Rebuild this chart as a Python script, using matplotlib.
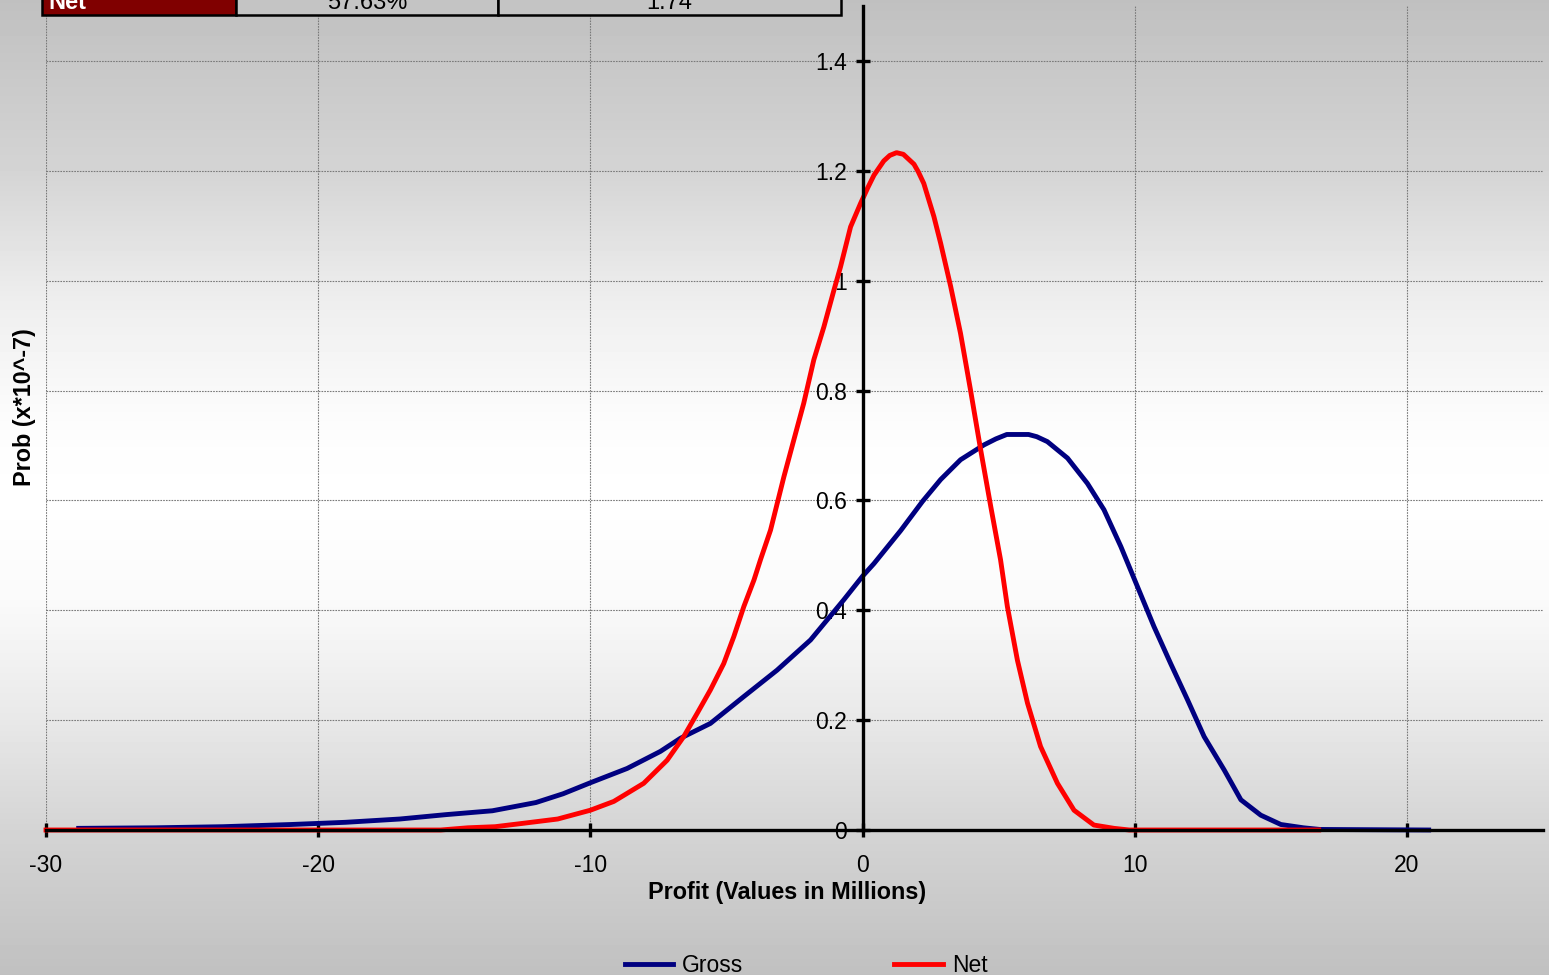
import numpy as np
import matplotlib
matplotlib.use("Agg")
import matplotlib.pyplot as plt
from matplotlib.patches import Rectangle

plt.rcParams['font.family'] = ['Liberation Sans', 'DejaVu Sans']
plt.rcParams['axes.unicode_minus'] = False

# ---------------- data ----------------
gross_x = [-28.8, -26.0, -23.5, -21.0, -19.0, -17.0, -15.3, -13.6, -12.0, -11.0, -10.0,
           -8.65, -7.43, -6.69, -5.59, -4.36, -3.14, -1.91, -0.69, 0.0, 0.42, 1.4, 2.2,
           2.87, 3.6, 4.46, 4.9, 5.3, 6.1, 6.4, 6.79, 7.53, 8.26, 8.87, 9.49, 10.1, 10.71, 11.32,
           11.94, 12.55, 13.29, 13.9, 14.63, 15.37, 16.2, 16.8, 20.8]
gross_y = [0.003, 0.004, 0.006, 0.010, 0.014, 0.020, 0.028, 0.035, 0.050, 0.066, 0.086,
           0.112, 0.143, 0.167, 0.194, 0.243, 0.291, 0.346, 0.419, 0.462, 0.485, 0.545, 0.598,
           0.638, 0.674, 0.701, 0.712, 0.720, 0.720, 0.716, 0.707, 0.677, 0.631, 0.583, 0.516, 0.443,
           0.370, 0.303, 0.237, 0.170, 0.109, 0.055, 0.027, 0.010, 0.004, 0.001, 0.0]

net_x = [-30.0, -15.5, -14.5, -13.5, -12.5, -11.2, -10.0, -9.14, -8.04, -7.18, -6.57,
         -6.08, -5.59, -5.1, -4.73, -4.36, -3.99, -3.75, -3.38, -2.89, -2.46, -2.16,
         -1.79, -1.42, -1.05, -0.81, -0.44, -0.07, 0.2, 0.42, 0.78, 1.0, 1.25, 1.5, 1.89,
         2.05, 2.25, 2.62, 2.87, 3.24, 3.6, 3.97, 4.34, 4.71, 5.07, 5.32, 5.69, 6.06, 6.54,
         7.16, 7.77, 8.5, 9.24, 9.8, 16.76]
net_y = [0.0, 0.0, 0.004, 0.006, 0.012, 0.020, 0.036, 0.052, 0.085, 0.127, 0.170,
         0.212, 0.255, 0.303, 0.352, 0.407, 0.455, 0.492, 0.546, 0.643, 0.722, 0.777,
         0.856, 0.916, 0.983, 1.025, 1.098, 1.141, 1.170, 1.192, 1.218, 1.228, 1.233, 1.230,
         1.212, 1.198, 1.177, 1.117, 1.068, 0.989, 0.904, 0.800, 0.692, 0.589, 0.492, 0.407,
         0.309, 0.231, 0.152, 0.085, 0.036, 0.009, 0.003, 0.0, 0.0]

x_ticks = [-30, -20, -10, 0, 10, 20]
y_ticks = [0, 0.2, 0.4, 0.6, 0.8, 1.0, 1.2, 1.4]
y_tick_labels = ["0", "0.2", "0.4", "0.6", "0.8", "1", "1.2", "1.4"]

table_cells = ["Net", "57.63%", "1.74"]

# ---------------- figure ----------------
W, H = 1549, 975
fig = plt.figure(figsize=(W / 100, H / 100), dpi=100)

# background vertical gradient
bg = fig.add_axes([0, 0, 1, 1], zorder=-10)
rows = np.arange(H)
knots_y = [0, 170, 300, 420, 500, 600, 720, 830, 975]
knots_v = [192, 212, 238, 252, 255, 250, 232, 212, 192]
vals = np.interp(rows, knots_y, knots_v)
img = np.repeat(vals[:, None], 16, axis=1)
bg.imshow(img, cmap='gray', vmin=0, vmax=255, aspect='auto',
          extent=[0, 1, 0, 1], origin='upper', interpolation='none')
bg.set_axis_off()

ax = fig.add_axes([46 / W, 145 / H, 1497 / W, 824 / H])
ax.set_facecolor('none')

ax.plot(gross_x, gross_y, color='#000080', lw=3.5, label='Gross', clip_on=False, zorder=2,
        solid_joinstyle='round')
ax.plot(net_x, net_y, color='#ff0000', lw=3.5, label='Net', clip_on=False, zorder=2.1,
        solid_joinstyle='round')

ax.set_xlim(-30, 25)
ax.set_ylim(0, 1.5)

for s in ['top', 'right']:
    ax.spines[s].set_visible(False)
ax.spines['left'].set_position(('data', 0))
ax.spines['bottom'].set_position(('data', 0))
ax.spines['left'].set_linewidth(2.4)
ax.spines['bottom'].set_linewidth(2.4)
ax.spines['left'].set_zorder(3)
ax.spines['bottom'].set_zorder(3)

ax.set_xticks(x_ticks)
ax.set_yticks(y_ticks)
ax.set_yticklabels(y_tick_labels)
ax.tick_params(axis='both', direction='inout', length=10, width=2.4, labelsize=16.5)
ax.tick_params(axis='x', pad=12)
ax.tick_params(axis='y', pad=6)

ax.grid(True, color='#7a7a7a', linestyle=(0, (1.5, 1.0)), linewidth=0.8)
ax.set_axisbelow(True)

fig.text(787 / W, 1 - 893 / H, "Profit (Values in Millions)", ha='center', va='center',
         fontsize=16.8, fontweight='bold')
fig.text(25 / W, 1 - 407 / H, "Prob (x*10^-7)", ha='center', va='center',
         fontsize=16.8, fontweight='bold', rotation=90)

fig.legend(loc='center', bbox_to_anchor=(806 / W, 1 - 966 / H), ncol=2, frameon=False,
           fontsize=16.5, handlelength=2.1, handletextpad=0.4, columnspacing=6.6)

# partial table at the top
cell_edges = [42, 236, 498, 841]
cell_colors = ['#800000', '#c4c4c4', '#c4c4c4']
for i, txt in enumerate(table_cells):
    x0 = cell_edges[i]
    x1 = cell_edges[i + 1]
    r = Rectangle((x0 / W, 1 - 15 / H), (x1 - x0) / W, 60 / H, transform=fig.transFigure,
                  facecolor=cell_colors[i], edgecolor='black', lw=1.8, clip_on=False)
    fig.add_artist(r)
    if i == 0:
        fig.text(48 / W, 1 - 9 / H, txt, ha='left', va='baseline', color='white',
                 fontsize=17, fontweight='bold')
    else:
        fig.text((x0 + x1) / 2 / W, 1 - 9 / H, txt, ha='center', va='baseline',
                 color='black', fontsize=17)

fig.savefig('out.png', dpi=100)
